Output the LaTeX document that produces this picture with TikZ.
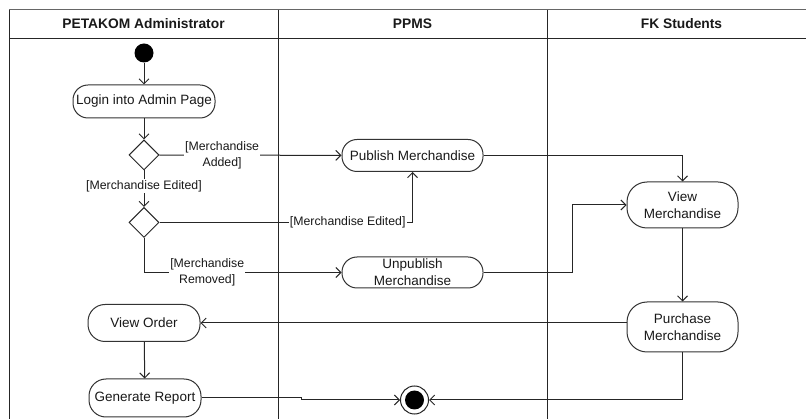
\documentclass[tikz,border=0pt]{standalone}
\usepackage{fontspec}
\setmainfont{Liberation Sans}
\usetikzlibrary{arrows.meta,shapes.geometric}
\begin{document}
\begin{tikzpicture}[x=1pt,y=-1pt,
  act/.style={draw=black!80, line width=1pt, rounded corners=#1, fill=white,
    font=\fontsize{13.5}{17}\selectfont, align=center, inner sep=0pt, text=black!90},
  decision/.style={draw=black!85, line width=1pt, diamond, fill=white,
    minimum width=30pt, minimum height=30pt, inner sep=0pt},
  guard/.style={fill=white, font=\fontsize{12.3}{16}\selectfont, align=center,
    inner sep=1pt, text=black!90},
  flow/.style={draw=black!85, line width=1pt, -{Straight Barb[length=5pt,width=10pt]}},
  lane/.style={draw=black!85, line width=1pt},
  lanehead/.style={font=\bfseries\fontsize{13.8}{16}\selectfont, text=black!90}
]
\useasboundingbox (0,0) rectangle (806,419);

% swimlane frame
\draw[lane, draw=black!60] (9,10) -- (806,10);
\draw[lane] (9,38.5) -- (806,38.5);
\draw[lane] (9,10) -- (9,419);
\draw[lane] (278,10) -- (278,419);
\draw[lane] (547,10) -- (547,419);
\node[lanehead] (h1) at (143.5,24) {PETAKOM Administrator};
\node[lanehead] (h2) at (412.5,24) {PPMS};
\node[lanehead] (h3) at (681.5,24) {FK Students};

% activities
\node[circle, fill=black, minimum size=19pt, inner sep=0pt] (start) at (144,53) {};
\node[act=15pt, minimum width=142pt, minimum height=33pt] (login) at (144,101.5) {Login into Admin Page};
\node[decision] (d1) at (144,155) {};
\node[decision] (d2) at (144,222.5) {};
\node[act=15pt, minimum width=141pt, minimum height=32pt] (publish) at (412.5,155.5) {Publish Merchandise};
\node[act=15pt, minimum width=141pt, minimum height=31pt] (unpub) at (412.5,272.5) {Unpublish\\Merchandise};
\node[act=20pt, minimum width=111pt, minimum height=46pt] (vm) at (682.5,205) {View\\Merchandise};
\node[act=20pt, minimum width=111pt, minimum height=50pt] (purch) at (682.5,327) {Purchase\\Merchandise};
\node[act=17pt, minimum width=112pt, minimum height=37pt] (vo) at (144,323) {View Order};
\node[act=17pt, minimum width=112pt, minimum height=38pt] (gr) at (145,398) {Generate Report};
\node[circle, draw=black!85, line width=1pt, fill=white, minimum size=28pt, inner sep=0pt] (fin) at (414.5,400) {};
\fill[black] (fin.center) circle (9.5pt);

% bend points
\coordinate (j1) at (572,0);
\coordinate (j2) at (301,0);

% control flow
\draw[flow] (start) -- (login);
\draw[flow] (login) -- (d1);
\draw[flow] (d1) -- node[guard, pos=0.42] {[Merchandise Edited]} (d2);
\draw[flow] (d1) -- node[guard, pos=0.344] {[Merchandise\\Added]} (publish);
\draw[flow] (d2.east) -- node[guard, pos=0.744] {[Merchandise Edited]} (publish.south |- d2.east) -- (publish.south);
\draw[flow] (d2.south) -- (d2.south |- unpub.west) -- node[guard, pos=0.32] {[Merchandise\\Removed]} (unpub.west);
\draw[flow] (publish.east) -| (vm.north);
\draw[flow] (unpub.east) -- (unpub.east -| j1) |- (vm.west);
\draw[flow] (vm) -- (purch);
\draw[flow] (purch.west |- vo.east) -- (vo.east);
\draw[flow] (vo) -- (gr);
\draw[flow] (gr.east) -- (gr.east -| j2) -- (j2 |- fin.west) -- (fin.west);
\draw[flow] (purch.south) |- (fin.east);
\end{tikzpicture}
\end{document}
